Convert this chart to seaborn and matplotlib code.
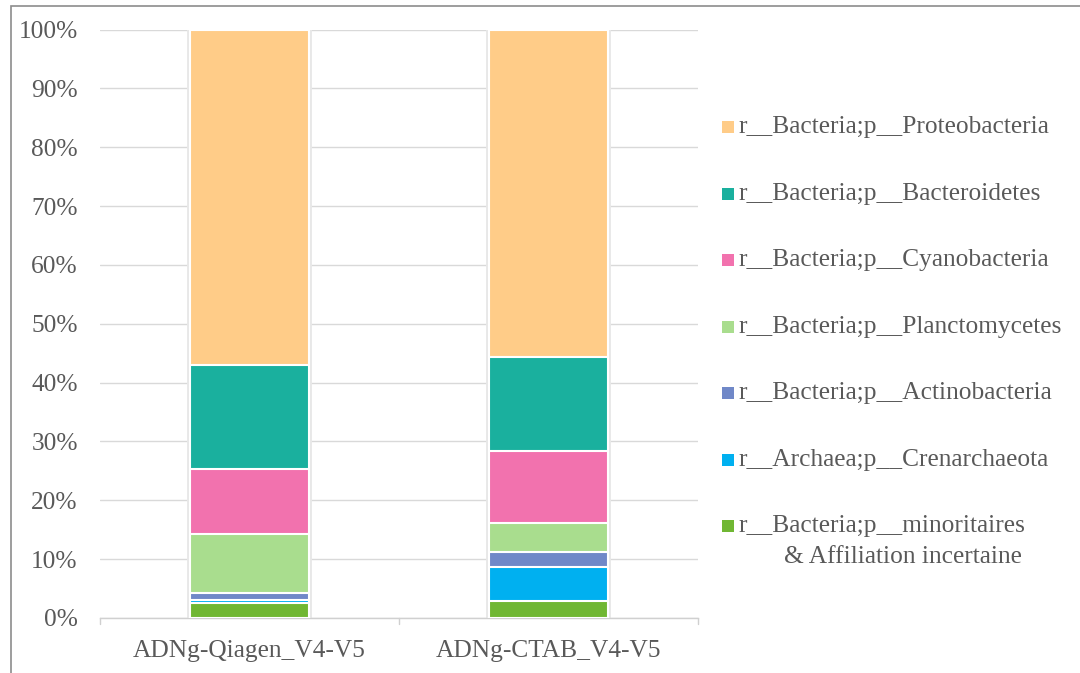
import matplotlib
matplotlib.use("Agg")
import matplotlib.pyplot as plt
import matplotlib.patches as mpatches
import seaborn as sns
import pandas as pd
import numpy as np

# Relative abundance (%) per phylum for each DNA extraction
samples = ["ADNg-Qiagen_V4-V5", "ADNg-CTAB_V4-V5"]
phyla = [
    "r__Bacteria;p__minoritaires",
    "r__Archaea;p__Crenarchaeota",
    "r__Bacteria;p__Actinobacteria",
    "r__Bacteria;p__Planctomycetes",
    "r__Bacteria;p__Cyanobacteria",
    "r__Bacteria;p__Bacteroidetes",
    "r__Bacteria;p__Proteobacteria",
]
minoritaires = [2.5, 2.85]
crenarchaeota = [0.5, 5.75]
actinobacteria = [1.3, 2.6]
planctomycetes = [9.9, 4.9]
cyanobacteria = [11.1, 12.2]
bacteroidetes = [17.7, 16.1]
proteobacteria = [57.0, 55.6]
legend_labels = [
    "r__Bacteria;p__Proteobacteria",
    "r__Bacteria;p__Bacteroidetes",
    "r__Bacteria;p__Cyanobacteria",
    "r__Bacteria;p__Planctomycetes",
    "r__Bacteria;p__Actinobacteria",
    "r__Archaea;p__Crenarchaeota",
    "r__Bacteria;p__minoritaires",
]
extra_line = "& Affiliation incertaine"

colors = ["#70B733", "#00B0F0", "#7088C8", "#A9DD8E", "#F272AE", "#1AB09E", "#FFCC88"]
text_color = "#595959"

sns.set_theme(style="white")
plt.rcParams["font.family"] = ["Liberation Serif", "DejaVu Serif"]
fs = 18.3

values = np.array([minoritaires, crenarchaeota, actinobacteria, planctomycetes,
                   cyanobacteria, bacteroidetes, proteobacteria]) / 100.0
shares = values / values.sum(axis=0)
cum = np.cumsum(shares, axis=0)

fig = plt.figure(figsize=(10.8, 6.73), dpi=100)
ax = fig.add_axes([100 / 1080, 1 - 618 / 673, 598 / 1080, (618 - 29.5) / 673])

# soft halo behind each full column
halo = pd.DataFrame({"sample": samples, "value": cum[-1]})
sns.barplot(data=halo, x="sample", y="value", color="#e6e6e6", width=0.405,
            edgecolor="#e8e8e8", linewidth=2.8, saturation=1, ax=ax, zorder=2)

# stacked segments, drawn from the tallest cumulative total downward
for i in range(len(phyla) - 1, -1, -1):
    df = pd.DataFrame({"sample": samples, "value": cum[i]})
    sns.barplot(data=df, x="sample", y="value", color=colors[i], width=0.4,
                edgecolor="white", linewidth=1.5, saturation=1, ax=ax, zorder=3)

ax.set_ylim(0, 1)
ax.set_xlim(-0.5, 1.5)
ax.set_yticks(np.arange(0, 1.01, 0.1))
ax.set_yticklabels([f"{int(round(t * 100))}%" for t in np.arange(0, 1.01, 0.1)],
                   fontsize=fs, color=text_color)
ax.set_xticks([0, 1])
ax.set_xticklabels(samples, fontsize=fs, color=text_color)
ax.set_xlabel("")
ax.set_ylabel("")
ax.yaxis.grid(True, color="#d9d9d9", linewidth=1.0, zorder=0)
ax.set_axisbelow(True)
for s in ["top", "right", "left"]:
    ax.spines[s].set_visible(False)
ax.spines["bottom"].set_color("#d0d0d0")
ax.spines["bottom"].set_linewidth(1.0)
ax.tick_params(axis="y", length=0, pad=16)
ax.tick_params(axis="x", length=0, pad=16)

# category separator ticks below the axis
for xp in [-0.5, 0.5, 1.5]:
    ax.plot([xp, xp], [0, -0.011], color="#d0d0d0", lw=1.0, clip_on=False,
            transform=ax.transData)

# legend
legend_y = [127, 194, 260, 327, 393, 460, 526]
cmap = dict(zip(phyla, colors))
for lab, yp in zip(legend_labels, legend_y):
    yf = 1 - yp / 673
    fig.patches.append(mpatches.Rectangle((722 / 1080, yf - 6 / 673), 12 / 1080, 12 / 673,
                                          transform=fig.transFigure, facecolor=cmap[lab],
                                          edgecolor="none"))
    fig.text(738 / 1080, yf, lab, fontsize=fs, color=text_color, va="center", ha="left")
fig.text(784 / 1080, 1 - 557 / 673, extra_line, fontsize=fs, color=text_color,
         va="center", ha="left")

# outer frame
fig.patches.append(mpatches.Rectangle((10.5 / 1080, -0.01), 1.02, 1 - 5.5 / 673 + 0.01,
                                      transform=fig.transFigure, fill=False,
                                      edgecolor="#8c8c8c", linewidth=1.2))

fig.savefig("out.png", dpi=100)
